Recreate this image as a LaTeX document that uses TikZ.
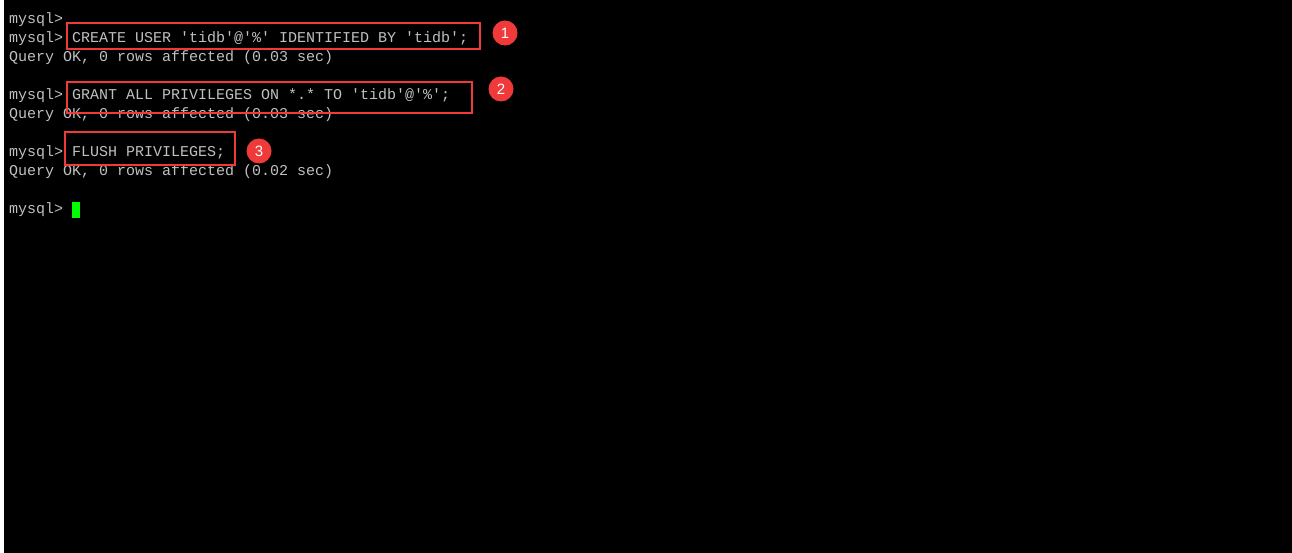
\documentclass[tikz,border=0pt]{standalone}
\usepackage{fontspec}
\setmonofont{Liberation Mono}
\setsansfont{Liberation Sans}
\definecolor{termgray}{HTML}{C0C0C0}
\definecolor{markred}{HTML}{F03A3A}
\definecolor{cursorgreen}{HTML}{00FF00}
\tikzset{
  line/.style={anchor=base west, inner sep=0pt, text=termgray, font=\ttfamily\fontsize{15}{15}\selectfont},
  markbox/.style={draw=markred, line width=2pt},
  badge/.style={circle, fill=markred, text=white, inner sep=0pt, minimum size=25pt, font=\sffamily\fontsize{15}{15}\selectfont}
}
\begin{document}
\begin{tikzpicture}[x=1pt,y=-1pt]
\fill[white] (0,0) rectangle (1292,553);
\fill[black] (4,0) rectangle (1292,553);
\useasboundingbox (0,0) rectangle (1292,553);

\node[line] at (9,24) (l1) {mysql>};
\node[line] at (9,43) (l2) {mysql> CREATE USER 'tidb'@'\%' IDENTIFIED BY 'tidb';};
\node[line] at (9,62) (l3) {Query OK, 0 rows affected (0.03 sec)};
\node[line] at (9,100) (l5) {mysql> GRANT ALL PRIVILEGES ON *.* TO 'tidb'@'\%';};
\node[line] at (9,119) (l6) {Query OK, 0 rows affected (0.03 sec)};
\node[line] at (9,157) (l8) {mysql> FLUSH PRIVILEGES;};
\node[line] at (9,176) (l9) {Query OK, 0 rows affected (0.02 sec)};
\node[line] at (9,214) (l11) {mysql>};
\fill[cursorgreen] (72,202) rectangle (80,218);

% red marks
\draw[markbox] (67,23) rectangle (480,49);
\draw[markbox] (67,82) rectangle (472,113);
\draw[markbox] (65,132) rectangle (235,165);

\node[badge] at (505,33) (b1) {1};
\node[badge] at (501,89) (b2) {2};
\node[badge] at (259,151) (b3) {3};
\end{tikzpicture}
\end{document}
